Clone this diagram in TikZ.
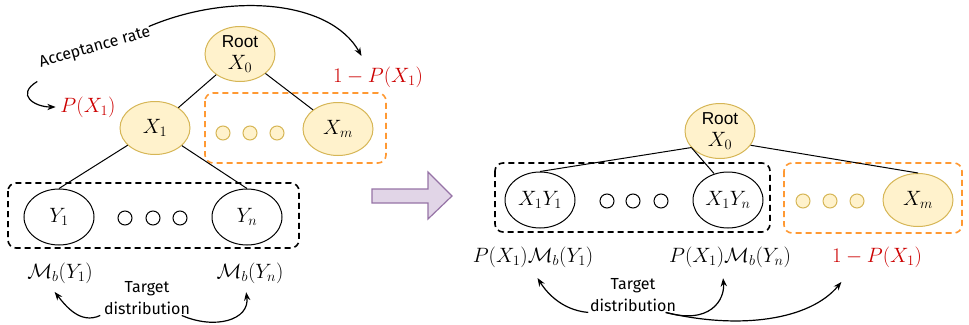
\documentclass[tikz,border=0pt]{standalone}
\usepackage{fontspec}
\setsansfont{Liberation Sans}
\newfontfamily\handfont{Fira Sans}
\usetikzlibrary{shapes.geometric, arrows.meta, calc}
\definecolor{nodefill}{HTML}{FFF2CC}
\definecolor{nodeline}{HTML}{D6B656}
\definecolor{subline}{HTML}{FF9933}
\definecolor{probred}{HTML}{CC0000}
\definecolor{flowfill}{HTML}{E1D5E7}
\definecolor{flowline}{HTML}{9673A6}

\begin{document}
\begin{tikzpicture}[x=1pt, y=-1pt, >=Stealth, line width=1pt,
    mathfont/.style={font=\fontsize{20.74}{22}\selectfont},
    yel/.style={ellipse, draw=nodeline, fill=nodefill, minimum width=70,
      minimum height=53, inner sep=0pt, mathfont},
    wht/.style={ellipse, draw=black, fill=white, minimum width=70,
      minimum height=56, inner sep=0pt, mathfont},
    rootnode/.style={yel, align=center, minimum height=55,
      font=\fontsize{17.28}{19}\sffamily},
    ydot/.style={circle, draw=nodeline, fill=nodefill, minimum size=14, inner sep=0pt},
    wdot/.style={circle, draw=black, fill=white, minimum size=14, inner sep=0pt},
    blackbox/.style={draw=black, dash pattern=on 6pt off 4pt, line width=1.6pt,
      rounded corners=8pt},
    orangebox/.style={draw=subline, dash pattern=on 6pt off 4pt, line width=1.6pt,
      rounded corners=8pt},
    prob/.style={mathfont},
    redprob/.style={mathfont, text=probred},
    hand/.style={font=\fontsize{16}{22}\handfont, align=center},
    arr/.style={->, line width=1.2pt, shorten >=1pt}]
  \useasboundingbox (0,0) rectangle (969,324);

  % left tree
  \draw[orangebox] (205,93) rectangle (386,163);
  \draw[blackbox] (8,183) rectangle (299,248);
  \node[rootnode] (lroot) at (240,54) {Root\\[3pt]{\fontsize{20.74}{22}\selectfont$X_0$}};
  \node[yel] (lxone) at (155,128) {$X_1$};
  \node[yel] (lxm) at (338,129) {$X_m$};
  \foreach \x in {223,250,277}
    \node[ydot] at (\x,133) {};
  \node[wht] (lyone) at (59,217) {$Y_1$};
  \node[wht] (lyn) at (247,217) {$Y_n$};
  \foreach \x in {125,153,180}
    \node[wdot] at (\x,218) {};
  \draw (lroot) -- (lxone);
  \draw (lroot) -- (lxm);
  \draw (lxone) -- (lyone.north);
  \draw (lxone) -- (lyn.north);

  \node[prob] (lmone) at (60,273) {$\mathcal{M}_b(Y_1)$};
  \node[prob] (lmn) at (250,273) {$\mathcal{M}_b(Y_n)$};
  \node[redprob] (lpx) at (88,107) {$P(X_1)$};
  \node[redprob] (lonep) at (378,77) {$1-P(X_1)$};
  \node[hand, rotate=16, font=\fontsize{16}{20}\handfont] (acc) at (95,48) {Acceptance rate};
  \node[hand] (ltarget) at (147,298) {Target\\distribution};

  \draw[arr] ($(acc.north east)+(-2,6)$) .. controls (230,-8) and (330,0) .. ($(lonep.north)+(-16,-6)$);
  \draw[arr] ($(acc.south west)+(-2,6)$) .. controls (15,95) and (35,107) .. (lpx.west);
  \draw[arr] ($(ltarget.south west)+(0,-3)$) .. controls (80,325) and (65,305) .. ($(lmone.south)+(-6,4)$);
  \draw[arr] ($(ltarget.south east)+(-12,-3)$) .. controls (215,330) and (250,320) .. ($(lmn.south)+(-4,4)$);

  % flow arrow
  \draw[fill=flowfill, draw=flowline, line width=1.2pt]
    (372,189) -- (428,189) -- (428,172) -- (452,196) -- (428,219)
    -- (428,203) -- (372,203) -- cycle;

  % right tree
  \draw[blackbox] (495,163) rectangle (770,232);
  \draw[orangebox] (784,163) rectangle (962,233);
  \node[rootnode] (rroot) at (720,131) {Root\\[3pt]{\fontsize{20.74}{22}\selectfont$X_0$}};
  \node[wht] (rxyone) at (540,200) {$X_1Y_1$};
  \node[wht] (rxyn) at (728,200) {$X_1Y_n$};
  \foreach \x in {607,633,661}
    \node[wdot] at (\x,201) {};
  \foreach \x in {803,830,857}
    \node[ydot] at (\x,201) {};
  \node[yel] (rxm) at (918,200) {$X_m$};
  \draw (rroot.-150) -- (rxyone.north);
  \draw (rroot.-150) -- ($(rxyn.north)+(-14,2)$);
  \draw (rroot.-25) -- (rxm.north);

  \node[prob] (rpone) at (533,257) {$P(X_1)\mathcal{M}_b(Y_1)$};
  \node[prob] (rpn) at (730,257) {$P(X_1)\mathcal{M}_b(Y_n)$};
  \node[redprob] (ronep) at (877,257) {$1-P(X_1)$};
  \node[hand] (rtarget) at (633,295) {Target\\distribution};

  \draw[arr] ($(rtarget.south west)+(2,-3)$) .. controls (560,310) and (545,290) .. ($(rpone.south)+(4,6)$);
  \draw[arr] ($(rtarget.south east)+(-14,-3)$) .. controls (710,325) and (725,300) .. ($(rpn.south)+(-7,6)$);
  \draw[arr] ($(rtarget.south east)+(-14,-3)$) .. controls (740,330) and (810,320) .. ($(ronep.south)+(-35,10)$);
\end{tikzpicture}
\end{document}
